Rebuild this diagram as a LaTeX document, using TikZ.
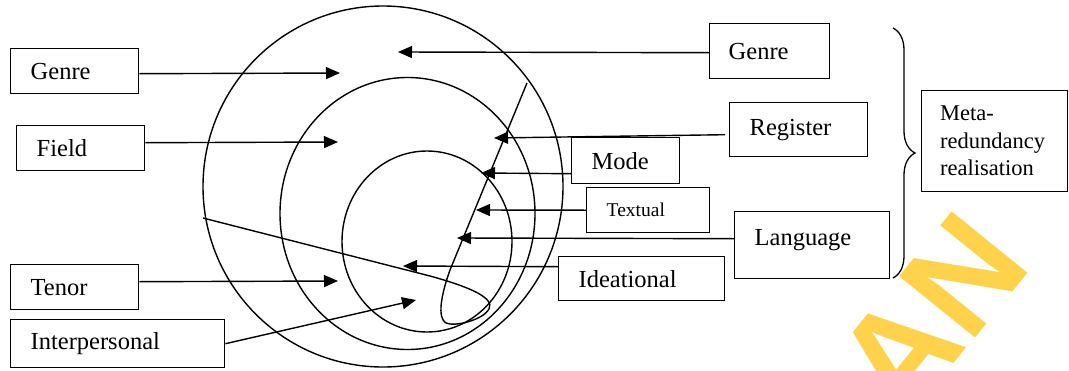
\documentclass[tikz,border=0pt]{standalone}
\usepackage{fontspec}
\setmainfont{Liberation Serif}
\newfontfamily\tnr{Liberation Serif}
\newfontfamily\wmfont{Liberation Sans}
\usetikzlibrary{arrows.meta,decorations.pathreplacing,calc}
\definecolor{wm}{RGB}{255,210,75}
\begin{document}
\begin{tikzpicture}[x=1pt,y=-1pt,line width=1.4pt,
  box/.style={draw, anchor=north west, align=left, inner xsep=20pt, inner ysep=0pt,
    font=\tnr\fontsize{24.5}{29}\selectfont},
  arr/.style={-{Triangle[length=14pt,width=12pt]}}]
\useasboundingbox (0,0) rectangle (1069,370);

% watermark
\node[text=wm, font=\wmfont\bfseries\fontsize{142}{150}\selectfont, rotate=51,
  anchor=base east, inner sep=0pt] (wmark) at (1034,265) {AN};

% circles
\draw (383,186.5) ellipse [x radius=180pt, y radius=180.5pt];
\draw (407.5,213.5) ellipse [x radius=127.5pt, y radius=136pt];
\draw (427,241.5) ellipse [x radius=85pt, y radius=90.5pt];

% loop curve
\draw (203,218) -- (430,276) .. controls (470,287) and (495,298) .. (489,309)
  .. controls (483,320) and (455,327) .. (446,323)
  .. controls (437,318) and (441,295) .. (450,270) -- (527,83);

% left boxes
\node[box, text width=88pt, minimum height=45pt] (lgenre) at (10,48) {Genre};
\node[box, text width=88pt, minimum height=45pt] (lfield) at (16,125) {Field};
\node[box, text width=88pt, minimum height=45pt] (ltenor) at (10,264) {Tenor};
\node[box, text width=174pt, minimum height=48pt] (linter) at (10,319) {Interpersonal};

% right boxes
\node[box, text width=82pt, minimum height=55pt, inner xsep=19pt] (rgenre) at (709,23) {Genre};
\node[box, text width=98pt, minimum height=54pt] (rreg) at (729,102) {Register};
\node[box, text width=68pt, minimum height=46pt] (mode) at (571,137) {Mode};
\node[box, text width=83pt, minimum height=45pt, font=\tnr\fontsize{19.5}{23}\selectfont] (textual) at (586,187) {Textual};
\node[box, text width=115pt, minimum height=67pt, text depth=15pt] (lang) at (734,211) {Language};
\node[box, text width=126pt, minimum height=44pt] (ideat) at (558,256) {Ideational};
\node[box, text width=108pt, minimum height=101pt, inner xsep=19pt,
  font=\tnr\fontsize{22.5}{27.5}\selectfont] (meta) at (920.5,90) {Meta-\\redundancy\\realisation};

% left arrows
\draw[arr] (lgenre.east) ++(0,2.5) -- (340,73);
\draw[arr] (lfield.east) ++(0,-5.5) -- (338,142);
\draw[arr] (ltenor.east) ++(0,-5.5) -- (338,281);
\draw[arr] (linter.east) -- (416,300);

% right arrows
\draw[arr] (rgenre.west) ++(0,1.5) -- (398,52);
\draw[arr] (rreg.west) ++(-4,5) -- (494,138);
\draw[arr] (mode.west) ++(0,13) -- (481,173);
\draw[arr] (textual.west) -- (476,210);
\draw[arr] (lang.west) ++(0,-6.5) -- (457,238);
\draw[arr] (ideat.west) ++(0,-12) -- (403,266);

% brace
\draw[line width=1.3pt, decorate, decoration={brace, amplitude=22pt}] (893,28) -- (893,278);
\end{tikzpicture}
\end{document}
